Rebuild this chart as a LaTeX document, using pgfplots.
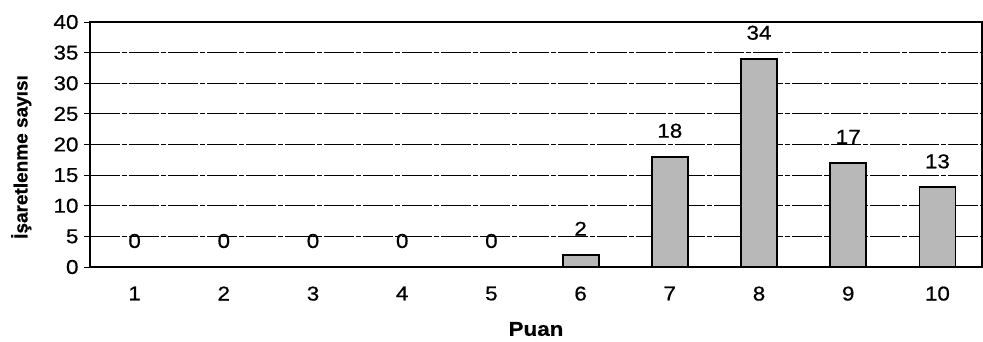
\documentclass[border=0pt]{standalone}
\usepackage{pgfplots}
\pgfplotsset{compat=1.18}
\usepackage{pgfplotstable}
\usepackage{fontspec}
\setmainfont[FakeStretch=1.12, FakeBold=0.6]{Liberation Sans}
\newfontfamily\ylabfont[FakeBold=0.6]{Liberation Sans}

% Number of votes per score
\pgfplotstableread{
puan sayi
1 0
2 0
3 0
4 0
5 0
6 2
7 18
8 34
9 17
10 13
}\puantable

\definecolor{barfill}{RGB}{184,184,184}

\begin{document}
\begin{tikzpicture}
\begin{axis}[
  scale only axis,
  width=892pt, height=245pt,
  xmin=0.5, xmax=10.5,
  ymin=0, ymax=40,
  xtick={1,...,10},
  ytick={0,5,...,40},
  tick align=outside,
  major tick length=6pt,
  xtick style={draw=none},
  ytick pos=left,
  ytick style={line width=0.8pt, black},
  ymajorgrids,
  grid style={black, line width=0.8pt, dash pattern=on 30pt off 2pt on 5pt off 2pt},
  axis line style={line width=1.6pt},
  /pgf/number format/assume math mode=true,
  tick label style={font=\fontsize{20}{22}\selectfont},
  xticklabel style={yshift=-10pt},
  yticklabel style={xshift=-2pt},
  xlabel={\textbf{Puan}},
  xlabel style={font=\fontsize{20}{22}\selectfont, at={(axis description cs:0.5,0)}, anchor=center, yshift=-62pt},
  ylabel={\ylabfont\bfseries İşaretlenme sayısı},
  ylabel style={font=\fontsize{19}{21}\selectfont, at={(axis description cs:-0.077,0.449)}, anchor=center},
  clip=false,
]
\addplot[ybar, bar width=36pt, fill=barfill, draw=black, line width=1.8pt,
  nodes near coords,
  every node near coord/.append style={font=\fontsize{20}{22}\selectfont, anchor=center, yshift=26pt, black}]
  table[x=puan, y=sayi] {\puantable};
\end{axis}
\pgfresetboundingbox
\useasboundingbox (-90pt,-74pt) rectangle (893pt,267pt);
\end{tikzpicture}
\end{document}
